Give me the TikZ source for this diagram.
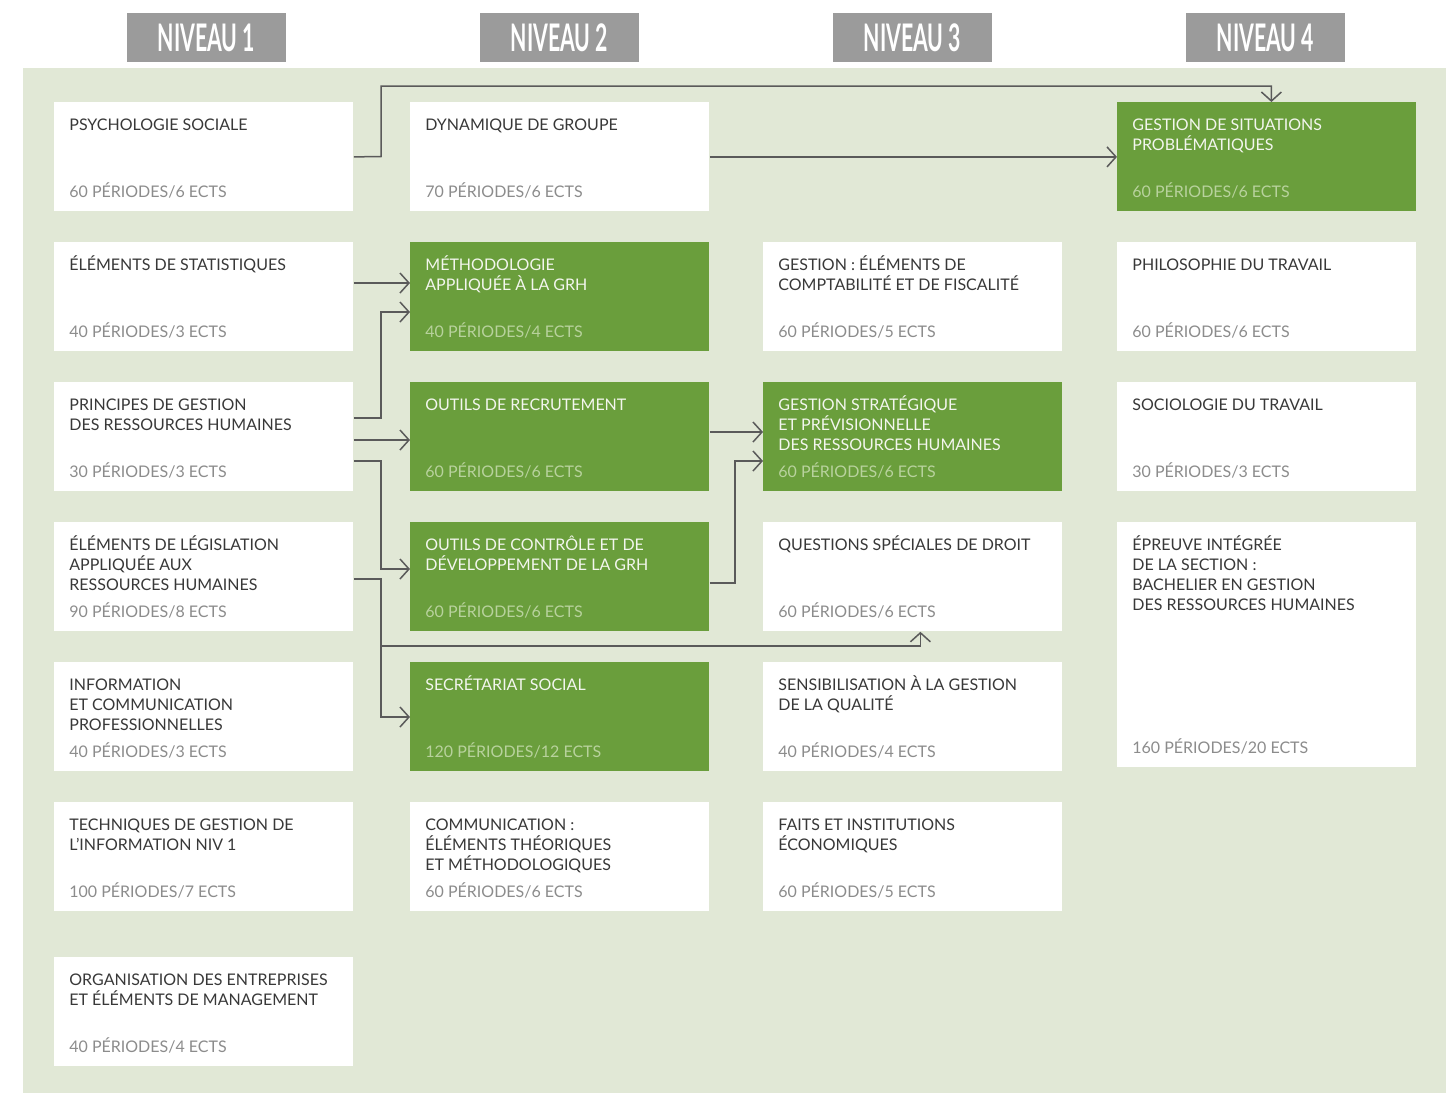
\documentclass[tikz,border=0pt]{standalone}
\usepackage{fontspec}
\setmainfont{Lato}
\usetikzlibrary{arrows.meta}
\definecolor{bg}{HTML}{E1E8D6}
\definecolor{grn}{HTML}{6A9E3C}
\definecolor{hdr}{HTML}{9B9B9B}
\definecolor{ink}{HTML}{383838}
\definecolor{per}{HTML}{8C8C8C}
\definecolor{gper}{HTML}{B8D29D}
\definecolor{gink}{HTML}{F3F6EE}
\definecolor{arr}{HTML}{5A5A5A}
\tikzset{
  box/.style={anchor=north west,inner sep=0pt,minimum width=149.5pt,minimum height=54.5pt},
  wbox/.style={box,fill=white},
  gbox/.style={box,fill=grn},
  wboxtitle/.style={inner sep=0pt,align=left,text=ink,font=\fontsize{8.0}{10}\selectfont},
  gboxtitle/.style={inner sep=0pt,align=left,text=gink,font=\fontsize{8.0}{10}\selectfont},
  wboxper/.style={inner sep=0pt,text=per,font=\fontsize{8.0}{10}\selectfont},
  gboxper/.style={inner sep=0pt,text=gper,font=\fontsize{8.0}{10}\selectfont},
  hdrbox/.style={fill=hdr,inner sep=0pt,minimum width=79.5pt,minimum height=24.5pt,text=white,font=\fontsize{19}{20}\selectfont\bfseries},
  link/.style={draw=arr,line width=0.75pt,-{Straight Barb[length=4.5pt,width=10pt]}},
  plain/.style={draw=arr,line width=0.75pt}
}
\newcommand\course[7]{%
  \node[#5,minimum height=#4] (#1) at (#2,#3) {};
  \node[#5title,anchor=north west] (#1-t) at ([shift={(15,13)}]#1.north west) {\vphantom{ÉQ}#6};
  \node[#5per,anchor=base west] (#1-p) at ([shift={(15,-14)}]#1.south west) {#7};
}
\begin{document}
\begin{tikzpicture}[x=0.5pt,y=-0.5pt]
\useasboundingbox (0,0) rectangle (1456,1093);
\fill[white] (0,0) rectangle (1456,1093);
\fill[bg] (23,68) rectangle (1446,1093);
% headers
\node[hdrbox] (h1) at (206.5,37.5) {\scalebox{0.56}[1]{NIVEAU 1}};
\node[hdrbox] (h2) at (559.5,37.5) {\scalebox{0.56}[1]{NIVEAU 2}};
\node[hdrbox] (h3) at (912.5,37.5) {\scalebox{0.56}[1]{NIVEAU 3}};
\node[hdrbox] (h4) at (1265.5,37.5) {\scalebox{0.56}[1]{NIVEAU 4}};
% column 1
\course{psy}{54}{102}{54.5pt}{wbox}{PSYCHOLOGIE SOCIALE}{60 PÉRIODES/6 ECTS}
\course{stat}{54}{242}{54.5pt}{wbox}{ÉLÉMENTS DE STATISTIQUES}{40 PÉRIODES/3 ECTS}
\course{prin}{54}{382}{54.5pt}{wbox}{PRINCIPES DE GESTION\\DES RESSOURCES HUMAINES}{30 PÉRIODES/3 ECTS}
\course{leg}{54}{522}{54.5pt}{wbox}{ÉLÉMENTS DE LÉGISLATION\\APPLIQUÉE AUX\\RESSOURCES HUMAINES}{90 PÉRIODES/8 ECTS}
\course{info}{54}{662}{54.5pt}{wbox}{INFORMATION\\ET COMMUNICATION\\PROFESSIONNELLES}{40 PÉRIODES/3 ECTS}
\course{tech}{54}{802}{54.5pt}{wbox}{TECHNIQUES DE GESTION DE\\L’INFORMATION NIV 1}{100 PÉRIODES/7 ECTS}
\course{org}{54}{957}{54.5pt}{wbox}{ORGANISATION DES ENTREPRISES\\ET ÉLÉMENTS DE MANAGEMENT}{40 PÉRIODES/4 ECTS}
% column 2
\course{dyn}{410}{102}{54.5pt}{wbox}{DYNAMIQUE DE GROUPE}{70 PÉRIODES/6 ECTS}
\course{meth}{410}{242}{54.5pt}{gbox}{MÉTHODOLOGIE\\APPLIQUÉE À LA GRH}{40 PÉRIODES/4 ECTS}
\course{rec}{410}{382}{54.5pt}{gbox}{OUTILS DE RECRUTEMENT}{60 PÉRIODES/6 ECTS}
\course{ctrl}{410}{522}{54.5pt}{gbox}{OUTILS DE CONTRÔLE ET DE\\DÉVELOPPEMENT DE LA GRH}{60 PÉRIODES/6 ECTS}
\course{sec}{410}{662}{54.5pt}{gbox}{SECRÉTARIAT SOCIAL}{120 PÉRIODES/12 ECTS}
\course{comm}{410}{802}{54.5pt}{wbox}{COMMUNICATION :\\ÉLÉMENTS THÉORIQUES\\ET MÉTHODOLOGIQUES}{60 PÉRIODES/6 ECTS}
% column 3
\course{cpt}{763}{242}{54.5pt}{wbox}{GESTION : ÉLÉMENTS DE\\COMPTABILITÉ ET DE FISCALITÉ}{60 PÉRIODES/5 ECTS}
\course{gsv}{763}{382}{54.5pt}{gbox}{GESTION STRATÉGIQUE\\ET PRÉVISIONNELLE\\DES RESSOURCES HUMAINES}{60 PÉRIODES/6 ECTS}
\course{qsd}{763}{522}{54.5pt}{wbox}{QUESTIONS SPÉCIALES DE DROIT}{60 PÉRIODES/6 ECTS}
\course{qual}{763}{662}{54.5pt}{wbox}{SENSIBILISATION À LA GESTION\\DE LA QUALITÉ}{40 PÉRIODES/4 ECTS}
\course{eco}{763}{802}{54.5pt}{wbox}{FAITS ET INSTITUTIONS\\ÉCONOMIQUES}{60 PÉRIODES/5 ECTS}
% column 4
\course{gsp}{1117}{102}{54.5pt}{gbox}{GESTION DE SITUATIONS\\PROBLÉMATIQUES}{60 PÉRIODES/6 ECTS}
\course{phil}{1117}{242}{54.5pt}{wbox}{PHILOSOPHIE DU TRAVAIL}{60 PÉRIODES/6 ECTS}
\course{soc}{1117}{382}{54.5pt}{wbox}{SOCIOLOGIE DU TRAVAIL}{30 PÉRIODES/3 ECTS}
\course{epr}{1117}{522}{122.5pt}{wbox}{ÉPREUVE INTÉGRÉE\\DE LA SECTION :\\BACHELIER EN GESTION\\DES RESSOURCES HUMAINES}{160 PÉRIODES/20 ECTS}
% connectors
\draw[link] (psy.east) -- (381,156.5) -- (381,86) -| ([xshift=2.25pt]gsp.north);
\draw[link] (dyn.east) -- (gsp.west);
\draw[link] (stat.east |- 0,283) -- (meth.west |- 0,283);
\draw[link] (prin.east |- 0,418) -| (381,312) -- (meth.west |- 0,312);
\draw[link] (prin.east |- 0,440) -- (rec.west |- 0,440);
\draw[link] (prin.east |- 0,461) -| (381,569) -- (ctrl.west |- 0,569);
\draw[link] (leg.east |- 0,579) -| (381,717) -- (sec.west |- 0,717);
\coordinate (j1) at (381,646);
\draw[link] (j1) -| ([xshift=3.75pt]qsd.south);
\draw[link] (rec.east |- 0,432) -- (gsv.west |- 0,432);
\draw[link] (ctrl.east |- 0,583) -| (735,461) -- (gsv.west |- 0,461);
\end{tikzpicture}
\end{document}
